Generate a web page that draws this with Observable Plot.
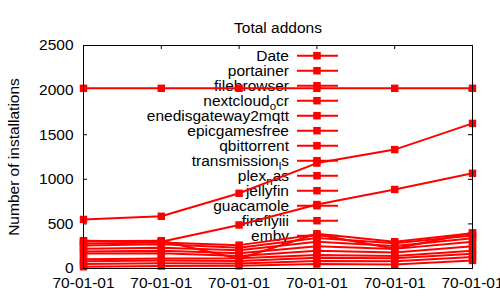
<!DOCTYPE html>
<html><head><meta charset="utf-8">
<script src="https://cdn.jsdelivr.net/npm/d3@7"></script>
<script src="https://cdn.jsdelivr.net/npm/@observablehq/plot@0.6"></script>
<style>body{margin:0;background:#fff}#chart{width:500px;height:300px}</style>
</head><body><div id="chart"></div>
<script>
// ---- data ----
const dates = ["70-01-01","70-01-01","70-01-01","70-01-01","70-01-01","70-01-01"];
const yTicks = [0, 500, 1000, 1500, 2000, 2500];
const title = "Total addons";
const yLabel = "Number of installations";

const date               = [2020, 2020, 2020, 2020, 2020, 2020];
const portainer          = [550, 585, 843, 1182, 1333, 1627];
const filebrowser        = [312, 300, 488, 717, 886, 1067];
const nextcloud_ocr      = [305, 312, 110, 390, 300, 395];
const enedisgateway2mqtt = [280, 292, 262, 380, 222, 400];
const epicgamesfree      = [258, 272, 232, 342, 282, 370];
const qbittorrent        = [222, 232, 205, 300, 252, 340];
const transmission_ls    = [190, 200, 170, 250, 220, 300];
const plex_nas           = [168, 172, 140, 200, 180, 250];
const jellyfin           = [105, 112, 115, 150, 140, 200];
const guacamole          = [80, 90, 85, 120, 115, 165];
const fireflyiii         = [50, 60, 55, 85, 80, 130];
const emby               = [20, 28, 30, 50, 45, 90];

const seriesNames = ["Date","portainer","filebrowser","nextcloud_ocr","enedisgateway2mqtt","epicgamesfree","qbittorrent","transmission_ls","plex_nas","jellyfin","guacamole","fireflyiii","emby"];
const seriesValues = [date, portainer, filebrowser, nextcloud_ocr, enedisgateway2mqtt, epicgamesfree, qbittorrent, transmission_ls, plex_nas, jellyfin, guacamole, fireflyiii, emby];

const rows = seriesNames.flatMap((name, s) => seriesValues[s].map((v, i) => ({name, i, value: v})));
const xIdx = d3.range(dates.length);

// ---- layout ----
const W = 500, H = 300, mL = 83, mR = 28, mT = 45, mB = 32;
const fw = W - mL - mR, fh = H - mT - mB;
const RED = "#ff0000";
const FS = 15.5;

const svg = Plot.plot({
  width: W, height: H,
  marginLeft: mL, marginRight: mR, marginTop: mT, marginBottom: mB,
  style: {fontFamily: "'Liberation Sans', Arial, sans-serif", fontSize: FS + "px", color: "black", background: "white"},
  x: {domain: [0, dates.length - 1]},
  y: {domain: [0, 2500]},
  marks: [
    Plot.axisY(yTicks, {tickSize: 0, tickPadding: 10, tickFormat: d => String(d), label: yLabel, labelAnchor: "center", labelOffset: 76, labelArrow: false}),
    Plot.axisX(xIdx, {tickSize: 0, tickPadding: 8, tickFormat: i => dates[i], label: null}),
    Plot.tickY(yTicks, {y: d => d, insetRight: fw - 4, stroke: "black"}),
    Plot.tickY(yTicks, {y: d => d, insetLeft: fw - 4, stroke: "black"}),
    Plot.tickX(xIdx, {x: d => d, insetBottom: fh - 4, stroke: "black"}),
    Plot.tickX(xIdx, {x: d => d, insetTop: fh - 4, stroke: "black"}),
    Plot.line(rows, {x: "i", y: "value", z: "name", stroke: RED, strokeWidth: 2}),
    Plot.dot(rows, {x: "i", y: "value", symbol: "square", r: 4.2, fill: RED, stroke: "none"}),
    Plot.frame({stroke: "black"}),
    Plot.text([title], {frameAnchor: "top", dy: -24, fontSize: FS, fill: "black"})
  ]
});
document.getElementById("chart").appendChild(svg);

// ---- gnuplot-style key (drawn beneath the data lines) ----
const firstLine = svg.querySelector('[aria-label="line"]');
const key = document.createElementNS("http://www.w3.org/2000/svg", "g");
svg.insertBefore(key, firstLine);
const kg = d3.select(key);
const keyTextX = 289, keyL1 = 297, keyL2 = 338, keyM = 317, keyY0 = 55.7, keyStep = 15;
seriesNames.forEach((name, k) => {
  const y = keyY0 + k * keyStep;
  const t = kg.append("text").attr("x", keyTextX).attr("y", y).attr("dy", "0.32em")
    .attr("text-anchor", "end").attr("fill", "black").attr("font-size", FS);
  const m = name.match(/^(.*?)_(.)(.*)$/);
  if (m) {
    t.append("tspan").text(m[1]);
    t.append("tspan").attr("font-size", 11.5).attr("dy", 4).text(m[2]);
    t.append("tspan").attr("dy", -4).text(m[3]);
  } else t.text(name);
  kg.append("line").attr("x1", keyL1).attr("x2", keyL2).attr("y1", y).attr("y2", y)
    .attr("stroke", RED).attr("stroke-width", 2);
  kg.append("rect").attr("x", keyM - 3.75).attr("y", y - 3.75).attr("width", 7.5).attr("height", 7.5).attr("fill", RED);
});
</script>
</body></html>
